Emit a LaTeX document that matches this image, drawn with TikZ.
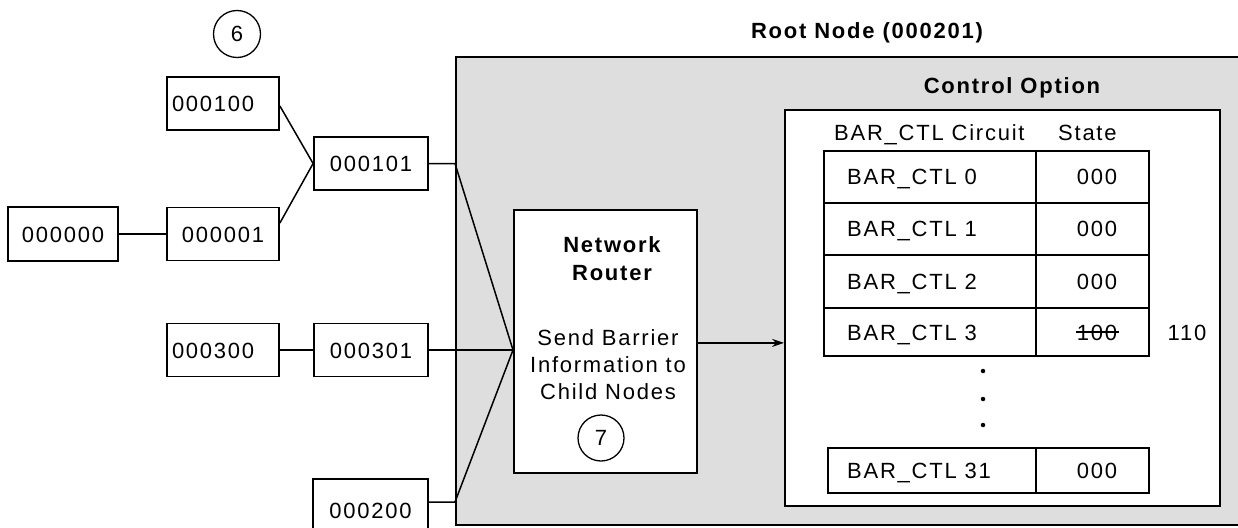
\documentclass[tikz,border=0pt]{standalone}
\usepackage{fontspec}
\setmainfont[LetterSpace=8]{Liberation Sans}
\usetikzlibrary{arrows.meta,calc}

\newcommand\dgmfont{\fontsize{22}{27}\selectfont}

\begin{document}
\begin{tikzpicture}[x=1pt,y=-1pt,
  txt/.style={inner sep=0pt, font=\dgmfont, text height=16pt, text depth=0pt},
  btxt/.style={txt, font=\dgmfont\bfseries},
  box/.style={draw, line width=1.8pt, fill=white, minimum width=112pt,
    minimum height=53pt, inner sep=0pt, font=\dgmfont,
    text height=16pt, text depth=0pt},
  lbox/.style={box, inner xsep=5pt, text width=102pt, align=left},
  panel/.style={draw, line width=1.8pt, inner sep=0pt, anchor=north west},
  cell/.style={draw, line width=1.6pt, inner sep=0pt, anchor=north west},
  conn/.style={line width=1.5pt},
  stepmark/.style={draw, circle, line width=1.3pt, inner sep=0pt, minimum size=47pt,
    font=\dgmfont},
  dotmark/.style={circle, fill, inner sep=0pt, minimum size=4.5pt}
]
\useasboundingbox (0,0) rectangle (1238,527);
\clip (0,0) rectangle (1238,527);

% root node panel
\node[panel, fill=black!13, minimum width=800pt, minimum height=468pt]
  (root) at (455,56) {};
\node[btxt] (roottitle) at (867,30) {Root Node (000201)};

% child nodes
\node[lbox] (n100) at (223,103.5) {000100};
\node[box, minimum width=114pt] (n101) at (371,163.5) {000101};
\node[box, minimum width=110pt, minimum height=54pt] (n000) at (63,234) {000000};
\node[box] (n001) at (223,234) {000001};
\node[lbox] (n300) at (223,350) {000300};
\node[box, minimum width=114pt] (n301) at (371,350) {000301};
\node[box, minimum width=115pt, minimum height=62pt] (n200) at (370.5,510) {000200};
\node[stepmark] (m6) at (237,34) {6};

% network router
\node[panel, fill=white, minimum width=183pt, minimum height=263pt]
  (router) at (513,209) {};
\node[inner sep=0pt, align=center, font=\fontsize{22}{28}\selectfont\bfseries]
  (routertitle) at (612,259) {Network\\Router};
\node[inner sep=0pt, align=center, font=\fontsize{22}{27}\selectfont]
  (routertext) at (608,365) {Send Barrier\\Information to\\Child Nodes};
\node[stepmark, minimum size=46pt] (m7) at (601,438) {7};

% control option
\node[panel, fill=white, minimum width=435pt, minimum height=396pt]
  (ctl) at (784,109) {};
\node[btxt] (ctltitle) at (1012,85) {Control Option};
\node[txt, anchor=west] (hcirc) at (834,132) {BAR\_CTL Circuit};
\node[txt, anchor=west] (hstate) at (1058,132) {State};

% register table
\node[cell, minimum width=212pt, minimum height=52pt] (c0) at (823,150) {};
\node[cell, minimum width=113pt, minimum height=52pt] (s0) at (1035,150) {};
\node[cell, minimum width=212pt, minimum height=52pt] (c1) at (823,202) {};
\node[cell, minimum width=113pt, minimum height=52pt] (s1) at (1035,202) {};
\node[cell, minimum width=212pt, minimum height=53pt] (c2) at (823,254) {};
\node[cell, minimum width=113pt, minimum height=53pt] (s2) at (1035,254) {};
\node[cell, minimum width=212pt, minimum height=48pt] (c3) at (823,307) {};
\node[cell, minimum width=113pt, minimum height=48pt] (s3) at (1035,307) {};
\node[cell, minimum width=208pt, minimum height=45pt] (c31) at (827,447) {};
\node[cell, minimum width=113pt, minimum height=45pt] (s31) at (1035,447) {};

\node[txt, anchor=west] (l0) at (847,176.5) {BAR\_CTL 0};
\node[txt, anchor=west] (l1) at (847,228.5) {BAR\_CTL 1};
\node[txt, anchor=west] (l2) at (847,281) {BAR\_CTL 2};
\node[txt, anchor=west] (l3) at (847,332) {BAR\_CTL 3};
\node[txt, anchor=west] (l31) at (847,470) {BAR\_CTL 31};
\node[txt] (v0) at (1097,176.5) {000};
\node[txt] (v1) at (1097,228.5) {000};
\node[txt] (v2) at (1097,281) {000};
\node[txt] (v3) at (1097,332) {100};
\node[txt] (v31) at (1097,470) {000};
\draw[line width=1.3pt] ($(v3.west)+(-1,0)$) -- ($(v3.east)+(2,0)$);
\node[txt] (v3new) at (1187,332) {110};

\node[dotmark] (d1) at (983,371) {};
\node[dotmark] (d2) at (983,399) {};
\node[dotmark] (d3) at (983,425) {};

% connections
\coordinate (conv) at (router.west |- n301.east);
\coordinate (e1) at (root.west |- n101.east);
\coordinate (n200out) at ($(n200.east)+(0,-8)$);
\coordinate (e2) at (root.west |- n200out);
\draw[conn] ($(n100.east)+(0,2.5)$) -- (n101.west);
\draw[conn] ($(n001.east)+(0,-11)$) -- (n101.west);
\draw[conn] (n000) -- (n001);
\draw[conn] (n300) -- (n301);
\draw[conn] (n301.east) -- (conv);
\draw[conn] (n101.east) -- (e1) -- (conv);
\draw[conn] (n200out) -- (e2) -- (conv);
\draw[conn, -{Stealth[length=12pt,width=8pt]}] ($(router.east)+(0,1.5)$)
  -- ($(ctl.west |- router.east)+(0,1.5)$);
\end{tikzpicture}
\end{document}
